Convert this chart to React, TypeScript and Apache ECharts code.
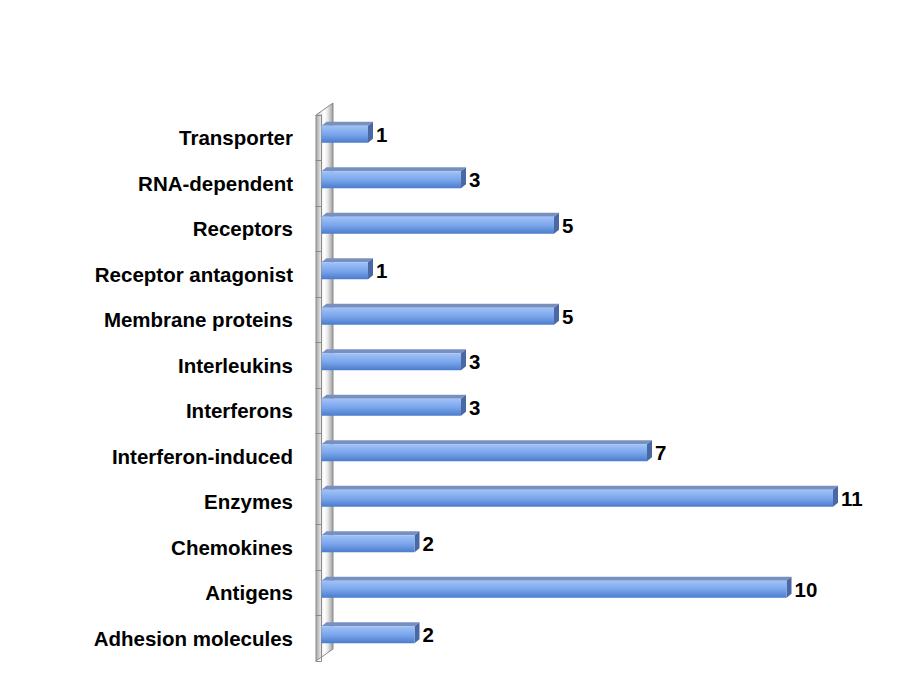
import React, { useEffect, useRef } from "react";
import * as echarts from "echarts";

const categories = [
  "Adhesion molecules",
  "Antigens",
  "Chemokines",
  "Enzymes",
  "Interferon-induced",
  "Interferons",
  "Interleukins",
  "Membrane proteins",
  "Receptor antagonist",
  "Receptors",
  "RNA-dependent",
  "Transporter",
];
const values = [2, 10, 2, 11, 7, 3, 3, 5, 1, 5, 3, 1];

const W = 911;
const H = 681;
const GRID_LEFT = 321.5;
const GRID_RIGHT = 78;
const GRID_TOP = 115;
const GRID_BOTTOM = 20;
const FONT = "'Liberation Sans', Arial, sans-serif";

export default function App() {
  const ref = useRef<HTMLDivElement>(null);
  useEffect(() => {
    if (!ref.current) return;
    const chart = echarts.init(ref.current, undefined, { renderer: "svg" });
    const wallL = GRID_LEFT - 5.5;
    const wallR = wallL + 17;
    const wallTop = GRID_TOP;
    const wallBot = H - GRID_BOTTOM;
    chart.setOption({
      animation: false,
      backgroundColor: "#ffffff",
      grid: { left: GRID_LEFT, right: GRID_RIGHT, top: GRID_TOP, bottom: GRID_BOTTOM },
      graphic: [
        {
          type: "polygon",
          z: 0,
          shape: {
            points: [
              [wallL, wallTop],
              [wallR, wallTop - 12],
              [wallR, wallBot - 12],
              [wallL, wallBot],
            ],
          },
          style: {
            fill: new echarts.graphic.LinearGradient(0, 0, 1, 0, [
              { offset: 0, color: "#a6a6a6" },
              { offset: 0.35, color: "#f2f2f2" },
              { offset: 0.5, color: "#ffffff" },
              { offset: 0.7, color: "#e6e6e6" },
              { offset: 1, color: "#9c9c9c" },
            ]),
            stroke: "#8a8a8a",
            lineWidth: 1,
          },
        },
      ],
      xAxis: {
        type: "value",
        min: 0,
        max: 11,
        show: false,
        splitLine: { show: false },
      },
      yAxis: {
        type: "category",
        data: categories,
        offset: 5.5,
        axisLine: { show: true, lineStyle: { color: "#8a8a8a", width: 1 } },
        axisTick: { show: true, length: 6, lineStyle: { color: "#8a8a8a" } },
        axisLabel: {
          margin: 23,
          color: "#000000",
          fontFamily: FONT,
          fontWeight: "bold",
          fontSize: 20.5,
        },
      },
      series: [
        {
          type: "custom",
          z: 10,
          encode: { x: 0, y: 1 },
          data: values.map((v, i) => [v, i]),
          renderItem: (params: any, api: any) => {
            const v = api.value(0);
            const idx = api.value(1);
            const p0 = api.coord([0, idx]);
            const p1 = api.coord([v, idx]);
            const x0 = p0[0];
            const x1 = p1[0];
            const yc = p0[1];
            const top = yc - 12;
            const bot = yc + 5;
            const dx = 5;
            const dy = 4;
            return {
              type: "group",
              children: [
                {
                  type: "polygon",
                  shape: {
                    points: [
                      [x0, top],
                      [x0 + dx, top - dy],
                      [x1 + dx, top - dy],
                      [x1, top],
                    ],
                  },
                  style: { fill: "#7890c0" },
                },
                {
                  type: "polygon",
                  shape: {
                    points: [
                      [x1, top],
                      [x1 + dx, top - dy],
                      [x1 + dx, bot - dy],
                      [x1, bot],
                    ],
                  },
                  style: { fill: "#4a68a4" },
                },
                {
                  type: "rect",
                  shape: { x: x0, y: top, width: x1 - x0, height: bot - top },
                  style: {
                    fill: new echarts.graphic.LinearGradient(0, 0, 0, 1, [
                      { offset: 0, color: "#a0c2f8" },
                      { offset: 0.5, color: "#7ba6ec" },
                      { offset: 1, color: "#4a7ccc" },
                    ]),
                  },
                },
                {
                  type: "text",
                  x: x1 + 8,
                  y: (top + bot) / 2,
                  style: {
                    text: String(v),
                    fill: "#000000",
                    font: `bold 20.5px ${FONT}`,
                    verticalAlign: "middle",
                    align: "left",
                  },
                },
              ],
            };
          },
        },
      ],
    });
    return () => chart.dispose();
  }, []);
  return (
    <div
      ref={ref}
      style={{ position: "absolute", left: 0, top: 0, width: W, height: H }}
    />
  );
}
